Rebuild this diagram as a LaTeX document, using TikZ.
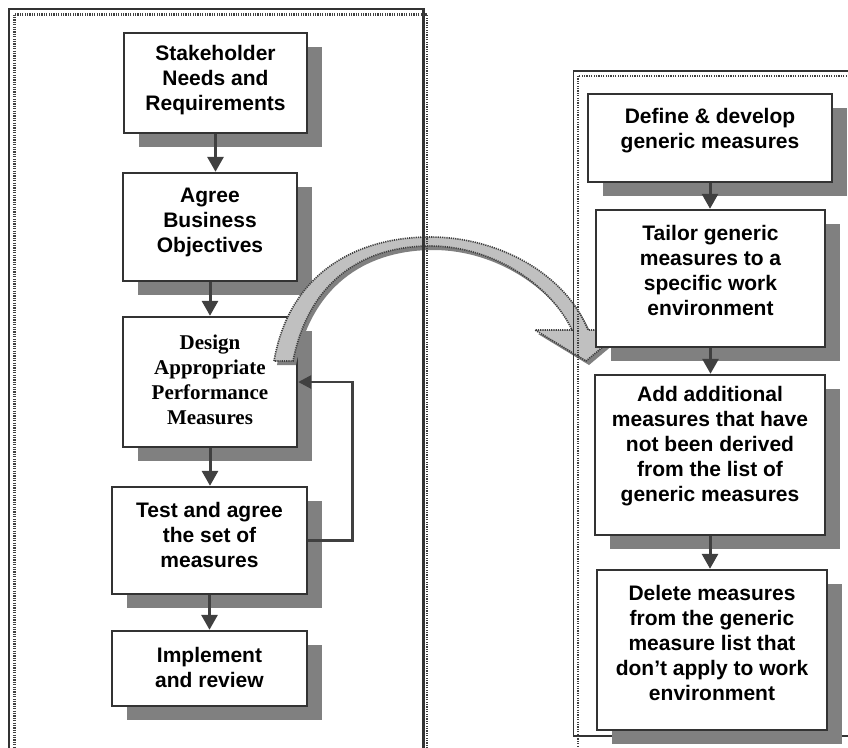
\documentclass[tikz,border=0pt]{standalone}
\usepackage{fontspec}
\setmainfont{Liberation Sans}
\newfontfamily\timesfont{Liberation Serif}
\usetikzlibrary{arrows.meta,shadows}

\definecolor{boxline}{HTML}{333333}
\definecolor{shadowgray}{HTML}{808080}
\definecolor{bendgray}{HTML}{C0C0C0}
\definecolor{linkgray}{HTML}{404040}

\tikzset{
  stepbox/.style={draw=boxline, line width=2.4pt, fill=white, inner sep=0pt,
    drop shadow={shadow xshift=15pt, shadow yshift=-14pt, fill=shadowgray, opacity=1}},
  steptext/.style={align=center, inner sep=0pt, font=\fontsize{21}{25}\selectfont\bfseries},
  flow/.style={draw=linkgray, line width=3pt, -{Triangle[width=16pt,length=15pt]}},
  frameline/.style={draw=boxline, line width=2.7pt},
  framedots/.style={draw=black!75, line width=2.6pt, dash pattern=on 1.2pt off 1.2pt},
}

\begin{document}
\begin{tikzpicture}[x=1pt, y=-1pt]
			%%%%% START %%%%%
			\useasboundingbox (0,0) rectangle (848,747);
			\clip (0,0) rectangle (848,747);

			% left column
			\node[stepbox, minimum width=183pt, minimum height=100pt] (stake) at (215.5,83) {};
			\node[steptext] (staket) at ([yshift=3pt]stake.center) {Stakeholder\\Needs and\\Requirements};

			\node[stepbox, minimum width=174pt, minimum height=108pt] (agree) at (210,227) {};
			\node[steptext] (agreet) at ([yshift=5pt]agree.center) {Agree\\Business\\Objectives};

			\node[stepbox, minimum width=174pt, minimum height=130pt] (design) at (210,382) {};
			\node[steptext, font=\fontsize{21}{25}\selectfont\timesfont\bfseries] (designt) at ([yshift=2pt]design.center) {Design\\Appropriate\\Performance\\Measures};

			\node[stepbox, minimum width=195pt, minimum height=107pt] (test) at (209.5,540.5) {};
			\node[steptext] (testt) at ([yshift=6pt]test.center) {Test and agree\\the set of\\measures};

			\node[stepbox, minimum width=195pt, minimum height=75pt] (impl) at (209.5,668.5) {};
			\node[steptext] (implt) at ([yshift=1pt]impl.center) {Implement\\and review};

			\draw[flow] (stake.south) -- (stake.south |- agree.north);
			\draw[flow] (agree.south) -- (design.north);
			\draw[flow] (design.south) -- (design.south |- test.north);
			\draw[flow] (test.south) -- (test.south |- impl.north);
			\draw[flow, line width=2.6pt, -{Triangle[width=13pt,length=13pt]}] (test.east) -- ++(44,0) |- (design.east);

			% bent arrow
			\fill[shadowgray, shift={(3,4)}] (274,361) .. controls (290,270) and (360,237) .. (430,237)
			  .. controls (500,237) and (566,275) .. (588,330) -- (623,330) -- (586,361) -- (535,330) -- (572,330)
			  .. controls (552,287) and (495,246) .. (430,246) .. controls (370,246) and (310,275) .. (293,361) -- cycle;
			\filldraw[fill=bendgray, draw=linkgray, line width=1.6pt, dash pattern=on 1.2pt off 1pt]
			  (274,361) .. controls (290,270) and (360,237) .. (430,237)
			  .. controls (500,237) and (566,275) .. (588,330) -- (623,330) -- (586,361) -- (535,330) -- (572,330)
			  .. controls (552,287) and (495,246) .. (430,246) .. controls (370,246) and (310,275) .. (293,361) -- cycle;

			% frames
			\draw[frameline] (9,9) rectangle (423.5,770);
			\draw[framedots] (14.5,14.5) rectangle (427,774);
			\draw[frameline, line width=1.5pt] (573.5,71) rectangle (900,736);
			\draw[framedots, line width=1.8pt] (578,76) rectangle (904,770);

			% right column
			\node[stepbox, minimum width=244pt, minimum height=88pt] (define) at (710,138) {};
			\node[steptext] (definet) at ([yshift=7pt]define.center) {Define \& develop\\generic measures};

			\node[stepbox, minimum width=229pt, minimum height=137pt] (tailor) at (710.5,278.5) {};
			\node[steptext] (tailort) at ([yshift=8pt]tailor.center) {Tailor generic\\measures to a\\specific work\\environment};

			\node[stepbox, minimum width=230pt, minimum height=160pt] (add) at (710,455) {};
			\node[steptext] (addt) at ([yshift=9pt]add.center) {Add additional\\measures that have\\not been derived\\from the list of\\generic measures};

			\node[stepbox, minimum width=230pt, minimum height=160pt] (delete) at (712,650) {};
			\node[steptext] (deletet) at ([yshift=7pt]delete.center) {Delete measures\\from the generic\\measure list that\\don’t apply to work\\environment};

			\draw[flow] (define.south) -- (define.south |- tailor.north);
			\draw[flow] (tailor.south) -- (tailor.south |- add.north);
			\draw[flow] (add.south) -- (add.south |- delete.north);
			%%%%% END %%%%%
\end{tikzpicture}
\end{document}
